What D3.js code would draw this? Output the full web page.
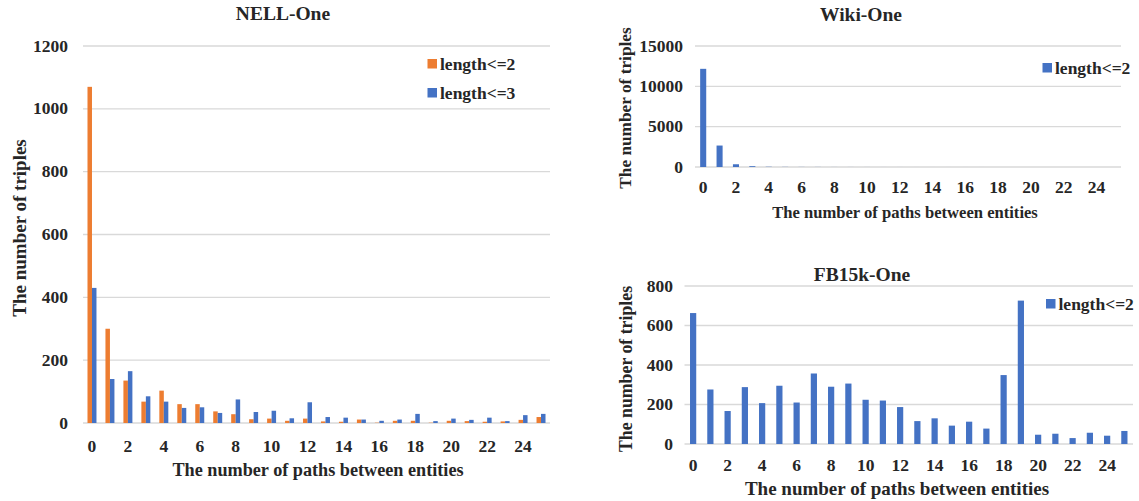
<!DOCTYPE html>
<html><head><meta charset="utf-8">
<script src="https://cdn.jsdelivr.net/npm/d3@7"></script>
<style>
body{margin:0;background:#fff;}
text{font-family:"Liberation Serif","Times New Roman",serif;font-weight:bold;fill:#262626;}
</style></head><body>
<svg id="c" width="1139" height="501"></svg>
<script>
const categories = d3.range(0, 26);
const xTickLabels = [0,2,4,6,8,10,12,14,16,18,20,22,24];

const nellLen2 = [1070,300,135,68,103,60,60,37,28,12,14,7,14,5,4,11,1,7,7,1,7,6,4,5,10,19];
const nellLen3 = [430,140,165,85,68,48,50,32,75,35,39,15,66,19,17,11,7,11,29,6,14,10,17,6,25,29];
const nellYTicks = [0,200,400,600,800,1000,1200];

const wikiLen2 = [12170,2660,340,100,30,15,10,8,5,4,3,2,2,1,1,1,1,1,0,0,0,0,0,0,0,0];
const wikiYTicks = [0,5000,10000,15000];

const fbLen2 = [663,276,167,288,207,295,210,357,290,306,224,220,187,116,130,93,113,78,349,726,47,52,30,57,42,66];
const fbYTicks = [0,200,400,600,800];

const ORANGE = "#ED7D31", BLUE = "#4472C4", GRID = "#d9d9d9";
const svg = d3.select("#c");

function panel(o){
  const g = svg.append("g");
  const x = d3.scaleBand().domain(categories).range([o.x0, o.x1]).paddingInner(o.pad).paddingOuter(o.pad/2);
  const y = d3.scaleLinear().domain([0, o.ymax]).range([o.yb, o.yt]);
  g.selectAll("line.grid").data(o.yticks).join("line")
    .attr("x1", o.x0).attr("x2", o.x1)
    .attr("y1", d=>y(d)).attr("y2", d=>y(d))
    .attr("stroke", GRID).attr("stroke-width", 1.3);
  const sub = d3.scaleBand().domain(d3.range(o.series.length)).range([0, x.bandwidth()]);
  o.series.forEach((s, si) => {
    g.selectAll("rect.s"+si).data(s.values).join("rect")
      .attr("x", (d,i)=>x(categories[i]) + sub(si))
      .attr("width", sub.bandwidth())
      .attr("y", d=>y(d))
      .attr("height", d=>y(0)-y(d))
      .attr("fill", s.color);
  });
  g.selectAll("text.yt").data(o.yticks).join("text")
    .attr("x", o.ytx).attr("y", d=>y(d)+5.5)
    .attr("text-anchor","end").attr("font-size", 17.5).text(d=>d);
  const xc = d => x(d) + x.bandwidth()/2;
  g.selectAll("text.xt").data(xTickLabels).join("text")
    .attr("x", d=>xc(d)).attr("y", o.xty)
    .attr("text-anchor","middle").attr("font-size", 17.5).text(d=>d);
  g.append("text").attr("x", o.tx).attr("y", o.ty).attr("text-anchor","middle")
    .attr("font-size", 19.5).text(o.title);
  g.append("text").attr("x", o.xlx).attr("y", o.xly).attr("text-anchor","middle")
    .attr("font-size", o.xfs).text("The number of paths between entities");
  g.append("text").attr("transform", `translate(${o.ylx},${o.yly}) rotate(-90)`)
    .attr("text-anchor","middle").attr("font-size", o.yfs).text("The number of triples");
  o.series.forEach((s, si) => {
    const ly = o.ly + si*o.lgap;
    g.append("rect").attr("x", o.lx).attr("y", ly-9).attr("width", 9.5).attr("height", 9.5).attr("fill", s.color);
    g.append("text").attr("x", o.lx+12.5).attr("y", ly+1.5).attr("font-size", 17.5).text(s.name);
  });
}

panel({
  x0: 83, x1: 550, yb: 423, yt: 46, ymax: 1200, pad: 0.5, yticks: nellYTicks,
  series: [{name:"length<=2", values: nellLen2, color: ORANGE},{name:"length<=3", values: nellLen3, color: BLUE}],
  ytx: 68, xty: 452, title: "NELL-One", tx: 283, ty: 20,
  xlx: 318, xly: 476, xfs: 18.2, ylx: 26, yly: 228, yfs: 19, lx: 427.5, ly: 68, lgap: 29
});
panel({
  x0: 695, x1: 1121, yb: 167, yt: 46, ymax: 15000, pad: 0.63, yticks: wikiYTicks,
  series: [{name:"length<=2", values: wikiLen2, color: BLUE}],
  ytx: 683, xty: 193, title: "Wiki-One", tx: 861, ty: 21,
  xlx: 905, xly: 218, xfs: 16.6, ylx: 631, yly: 108, yfs: 17.3, lx: 1042.5, ly: 72, lgap: 0
});
panel({
  x0: 684.5, x1: 1133, yb: 444, yt: 286, ymax: 800, pad: 0.64, yticks: fbYTicks,
  series: [{name:"length<=2", values: fbLen2, color: BLUE}],
  ytx: 673, xty: 471, title: "FB15k-One", tx: 862, ty: 281,
  xlx: 897, xly: 495, xfs: 19, ylx: 632, yly: 369, yfs: 17.8, lx: 1046, ly: 308, lgap: 0
});
</script></body></html>
